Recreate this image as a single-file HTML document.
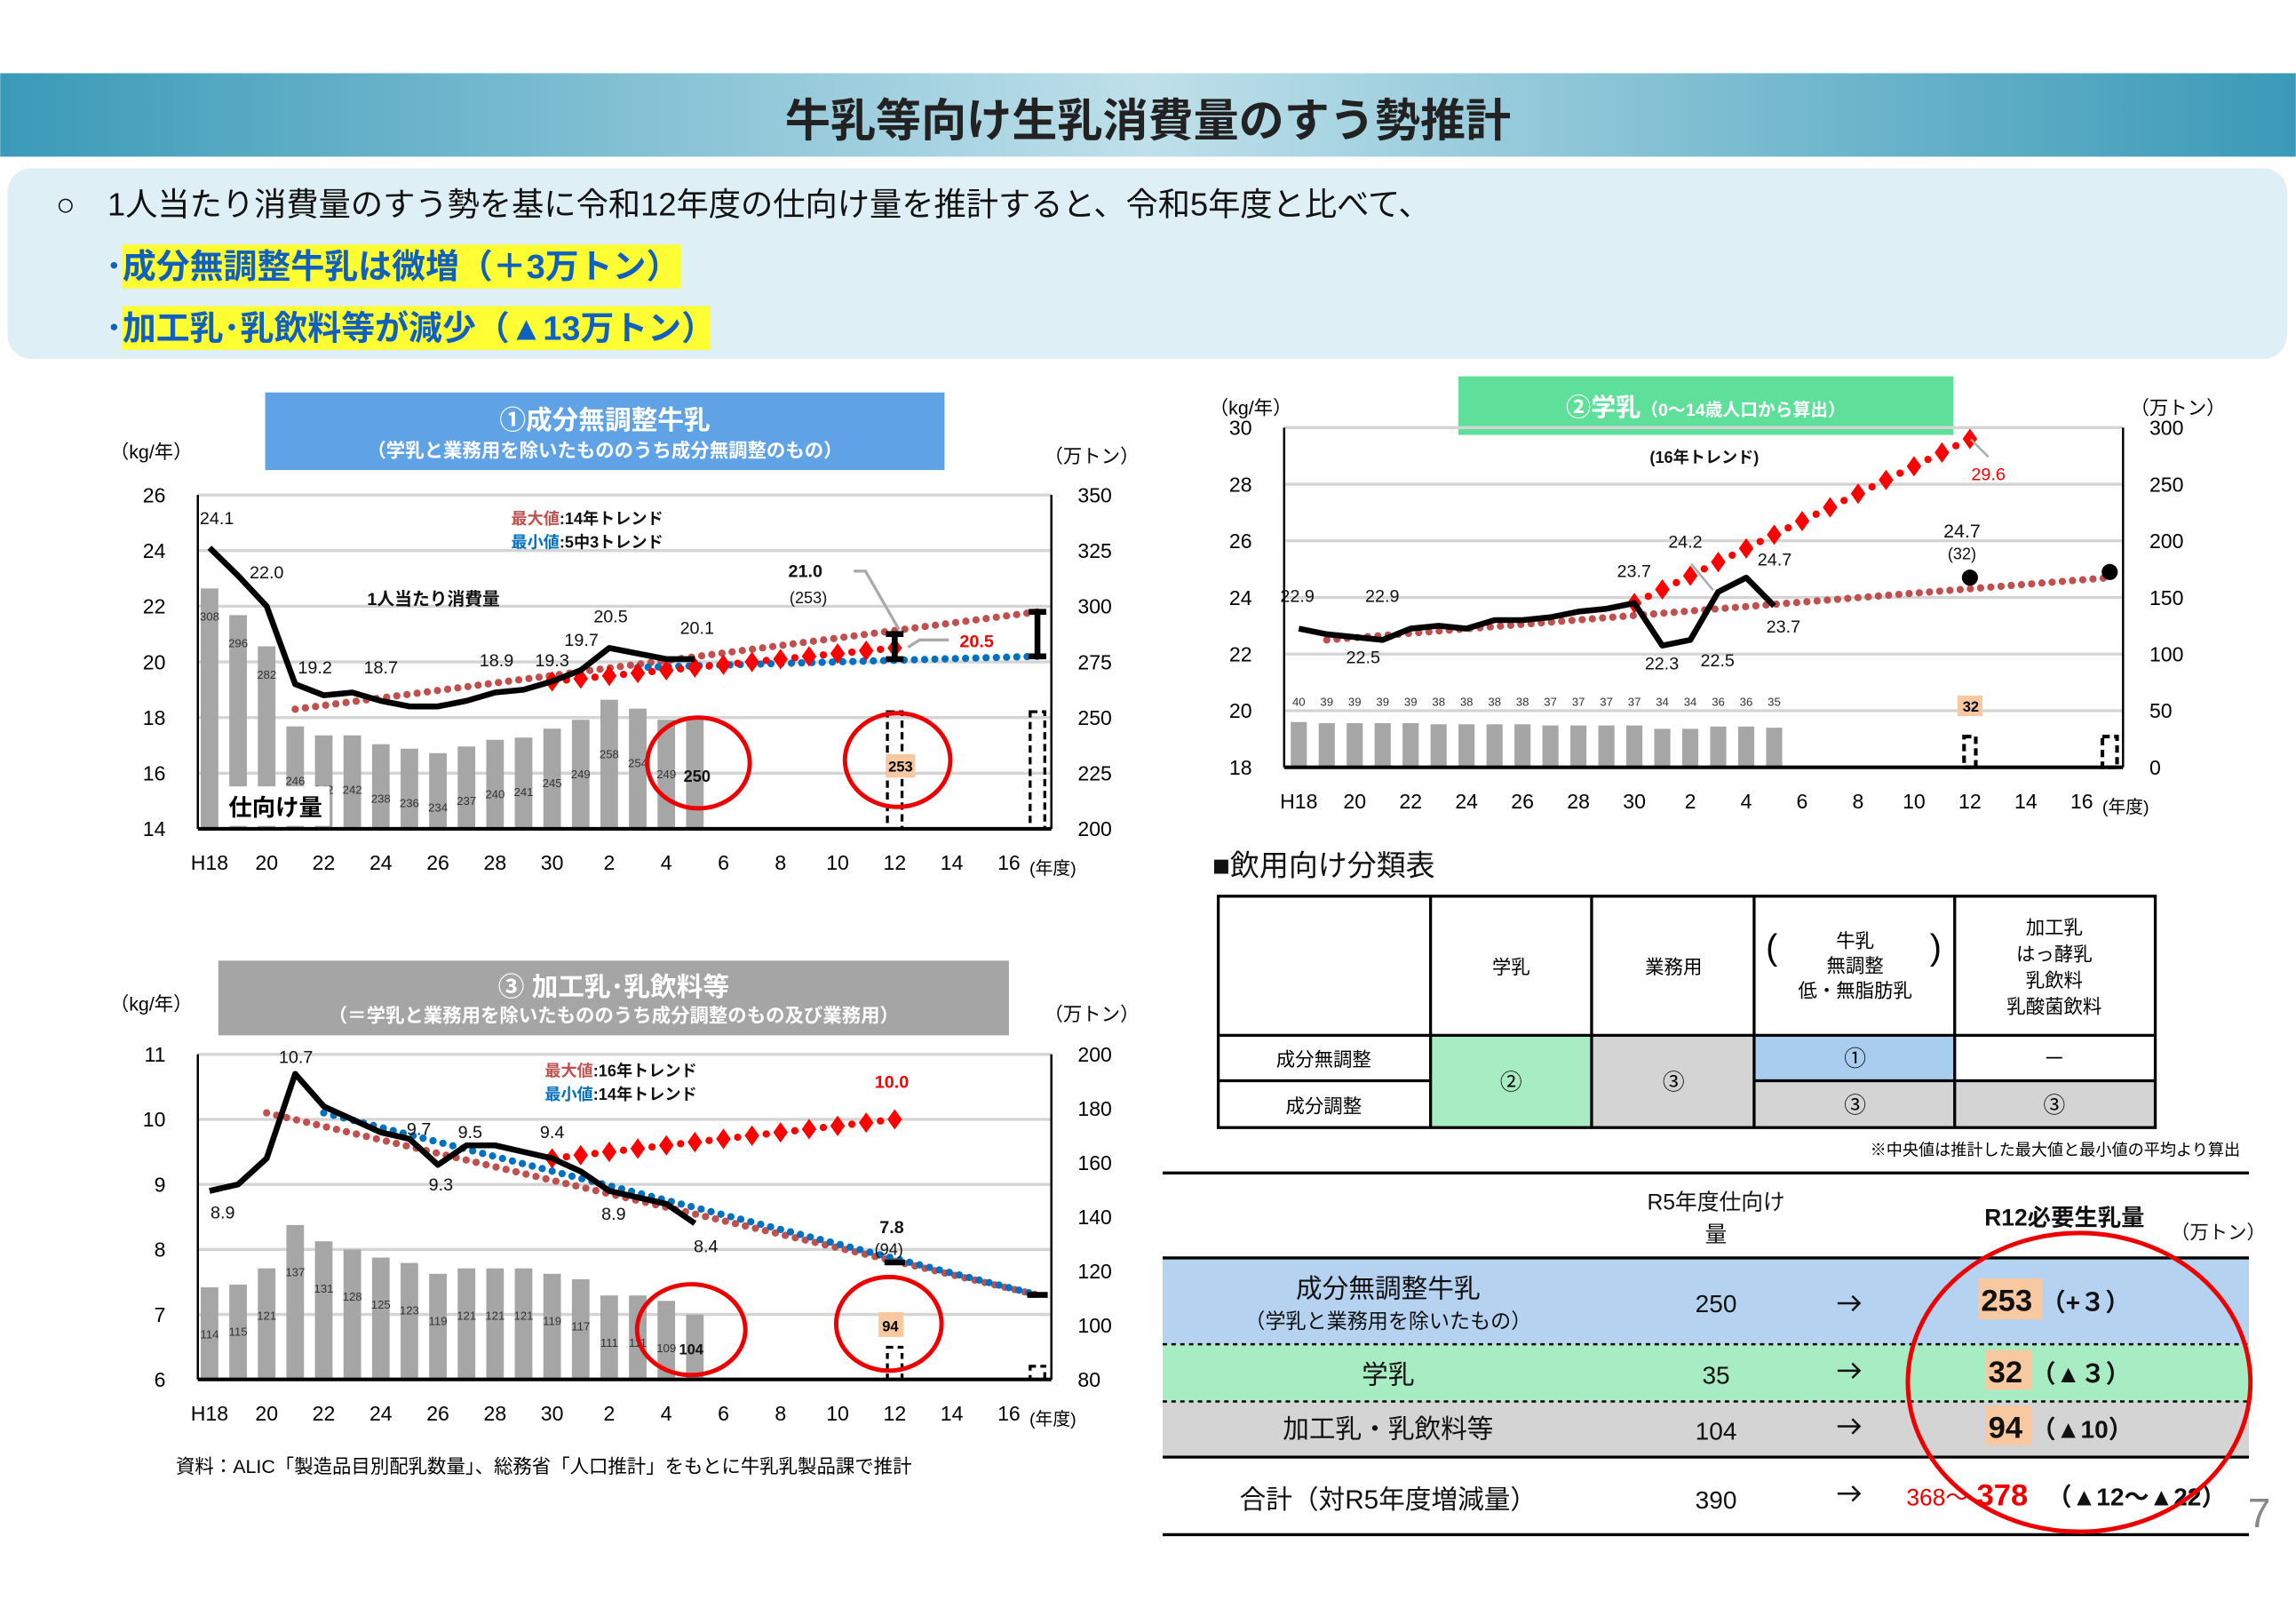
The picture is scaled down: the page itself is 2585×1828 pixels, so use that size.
<!DOCTYPE html>
<html><head><meta charset="utf-8"><style>
html,body{margin:0;padding:0;background:#fff}
svg{display:block}
text{font-family:"Liberation Sans","Noto Sans CJK JP",sans-serif}
</style></head><body>
<svg id="s" width="2585" height="1828" viewBox="0 0 1568 1109" xmlns="http://www.w3.org/2000/svg">
<defs>
<linearGradient id="bn" x1="0" x2="1"><stop offset="0" stop-color="#3a9ab8"/><stop offset="0.5" stop-color="#bfe0ea"/><stop offset="1" stop-color="#3a9ab8"/></linearGradient>
</defs>
<rect x="0" y="50" width="1568" height="57" fill="url(#bn)"/>
<text x="784" y="93" font-size="31" font-weight="bold" text-anchor="middle" fill="#222">牛乳等向け生乳消費量のすう勢推計</text>
<rect x="5" y="115" width="1557" height="130" rx="16" fill="#deeff5"/>
<text x="38" y="147" font-size="22" fill="#111">○　1人当たり消費量のすう勢を基に令和12年度の仕向け量を推計すると、令和5年度と比べて、</text>
<rect x="83" y="167" width="382" height="30" fill="#ffff33"/>
<text x="72" y="190" font-size="23" font-weight="bold" fill="#1060c0">･成分無調整牛乳は微増（＋3万トン）</text>
<rect x="83" y="209" width="402" height="30" fill="#ffff33"/>
<text x="72" y="232" font-size="23" font-weight="bold" fill="#1060c0">･加工乳･乳飲料等が減少（▲13万トン）</text>

<rect x="181" y="268" width="464" height="53" fill="#5fa3e6"/>
<text x="413" y="293" font-size="18" font-weight="bold" fill="#fff" text-anchor="middle">①成分無調整牛乳</text>
<text x="413" y="312" font-size="13" font-weight="bold" fill="#fff" text-anchor="middle">（学乳と業務用を除いたもののうち成分無調整のもの）</text>
<text x="75" y="313" font-size="13">（kg/年）</text><text x="713" y="316" font-size="13">（万トン）</text>

<rect x="149" y="656" width="540" height="51" fill="#a5a5a5"/>
<text x="419" y="680" font-size="18" font-weight="bold" fill="#fff" text-anchor="middle">③ 加工乳･乳飲料等</text>
<text x="419" y="698" font-size="13" font-weight="bold" fill="#fff" text-anchor="middle">（＝学乳と業務用を除いたもののうち成分調整のもの及び業務用）</text>
<text x="75" y="690" font-size="13">（kg/年）</text><text x="713" y="697" font-size="13">（万トン）</text>
<text x="120" y="1006" font-size="13">資料：ALIC「製造品目別配乳数量」、総務省「人口推計」をもとに牛乳乳製品課で推計</text>

<rect x="996" y="257" width="338" height="40" fill="#5fe09a"/>
<text x="1165" y="284" font-size="17" font-weight="bold" fill="#fff" text-anchor="middle">②学乳<tspan font-size="12">（0～14歳人口から算出）</tspan></text>
<text x="826" y="283" font-size="13">（kg/年）</text><text x="1455" y="283" font-size="13">（万トン）</text>

<g id="g"></g>

<text x="828" y="598" font-size="20" fill="#111">■飲用向け分類表</text>
<rect x="977" y="707" width="110" height="63" fill="#a8ecc4"/>
<rect x="1087" y="707" width="111" height="63" fill="#d4d4d4"/>
<rect x="1198" y="707" width="137" height="31" fill="#a9cdef"/>
<rect x="1198" y="738" width="274" height="32" fill="#d4d4d4"/>
<g stroke="#000" stroke-width="2" fill="none">
<rect x="832" y="612" width="640" height="158"/>
<line x1="977" y1="612" x2="977" y2="770"/><line x1="1087" y1="612" x2="1087" y2="770"/>
<line x1="1198" y1="612" x2="1198" y2="770"/><line x1="1335" y1="612" x2="1335" y2="770"/>
<line x1="832" y1="707" x2="1472" y2="707"/><line x1="832" y1="738" x2="977" y2="738"/><line x1="1198" y1="738" x2="1472" y2="738"/>
</g>
<g font-size="13" text-anchor="middle">
<text x="1032" y="665">学乳</text><text x="1143" y="665">業務用</text>
<text x="1267" y="647">牛乳</text><text x="1267" y="664">無調整</text><text x="1267" y="681">低・無脂肪乳</text>
<text x="1210" y="655" font-size="24">(</text><text x="1322" y="655" font-size="24">)</text>
<text x="1403" y="638">加工乳</text><text x="1403" y="656">はっ酵乳</text><text x="1403" y="674">乳飲料</text><text x="1403" y="692">乳酸菌飲料</text>
<text x="904" y="728">成分無調整</text><text x="904" y="760">成分調整</text>
<text x="1032" y="744" font-size="15">②</text><text x="1143" y="744" font-size="15">③</text>
<text x="1267" y="728" font-size="15">①</text><text x="1403" y="728" font-size="15">－</text>
<text x="1267" y="760" font-size="15">③</text><text x="1403" y="760" font-size="15">③</text>
</g>
<text x="1530" y="789" font-size="11" text-anchor="end">※中央値は推計した最大値と最小値の平均より算出</text>

<rect x="794" y="860" width="742" height="58" fill="#b5d3f0"/>
<rect x="794" y="918" width="742" height="39" fill="#a8ecc4"/>
<rect x="794" y="957" width="742" height="38" fill="#d4d4d4"/>
<line x1="794" y1="801" x2="1536" y2="801" stroke="#000" stroke-width="2"/>
<line x1="794" y1="859" x2="1536" y2="859" stroke="#000" stroke-width="2"/>
<line x1="794" y1="918" x2="1536" y2="918" stroke="#000" stroke-width="1.5" stroke-dasharray="3,3"/>
<line x1="794" y1="957" x2="1536" y2="957" stroke="#000" stroke-width="1.5" stroke-dasharray="3,3"/>
<line x1="794" y1="995" x2="1536" y2="995" stroke="#000" stroke-width="2"/>
<line x1="794" y1="1048" x2="1536" y2="1048" stroke="#000" stroke-width="2"/>
<g text-anchor="middle" fill="#111">
<text x="1172" y="826" font-size="15">R5年度仕向け</text><text x="1172" y="848" font-size="15">量</text>
<text x="1410" y="837" font-size="16" font-weight="bold">R12必要生乳量</text>
<text x="1515" y="846" font-size="13">（万トン）</text>
<text x="948" y="886" font-size="18">成分無調整牛乳</text><text x="948" y="907" font-size="14">（学乳と業務用を除いたもの）</text>
<text x="948" y="945" font-size="18">学乳</text><text x="948" y="982" font-size="18">加工乳・乳飲料等</text>
<text x="948" y="1030" font-size="18">合計（対R5年度増減量）</text>
<text x="1172" y="896" font-size="17">250</text><text x="1172" y="945" font-size="17">35</text>
<text x="1172" y="983" font-size="17">104</text><text x="1172" y="1030" font-size="17">390</text>
</g>
<g stroke="#111" stroke-width="1.5" fill="none">
<path d="M1255 890h15m-5-5l5 5l-5 5"/><path d="M1255 936h15m-5-5l5 5l-5 5"/>
<path d="M1255 974h15m-5-5l5 5l-5 5"/><path d="M1255 1020h15m-5-5l5 5l-5 5"/>
</g>
<rect x="1351" y="873" width="44" height="28" fill="#f8c8a0"/>
<rect x="1356" y="922" width="32" height="27" fill="#f8c8a0"/>
<rect x="1356" y="960" width="32" height="27" fill="#f8c8a0"/>
<g font-weight="bold" fill="#111">
<text x="1353" y="895" font-size="21">253 <tspan font-size="17">（+３）</tspan></text>
<text x="1358" y="944" font-size="21">32 <tspan font-size="17">（▲３）</tspan></text>
<text x="1358" y="982" font-size="21">94 <tspan font-size="17">（▲10）</tspan></text>
<text x="1302" y="1028" font-size="16" font-weight="normal" fill="#e00">368～</text>
<text x="1350" y="1028" font-size="21" fill="#e00">378</text>
<text x="1398" y="1028" font-size="17">（▲12～▲22）</text>
</g>
<ellipse cx="1420" cy="944" rx="117" ry="102" fill="none" stroke="#e00" stroke-width="3"/>
<text x="1543" y="1043" font-size="28" fill="#888" text-anchor="middle">7</text>
</svg>
<script>
const NS="http://www.w3.org/2000/svg",G=document.getElementById('g');
function el(t,a,txt){const e=document.createElementNS(NS,t);for(const k in a)e.setAttribute(k,a[k]);if(txt!==undefined)e.textContent=txt;G.appendChild(e);return e;}
function legend(x,y,c,rest){const t=el('text',{x:x,y:y,'font-size':11,'font-weight':'bold',fill:'#111'});
 const a=document.createElementNS(NS,'tspan');a.setAttribute('fill',c);a.textContent='最'+(c===B?'小':'大')+'値';t.appendChild(a);
 const b=document.createElementNS(NS,'tspan');b.textContent=rest;t.appendChild(b);}
const F="#c0504d",B="#0070c0";
function chart(c){
 const X=i=>c.x0+c.dx*i, Y=v=>c.yb-(v-c.lmin)*(c.yb-c.yt)/(c.lmax-c.lmin), YR=v=>c.yb-(v-c.rmin)*(c.yb-c.yt)/(c.rmax-c.rmin);
 for(let v=c.lmin;v<=c.lmax+1e-9;v+=c.lstep){el('line',{x1:c.px0,x2:c.px1,y1:Y(v),y2:Y(v),stroke:'#d4d4d4','stroke-width':2});
  el('text',{x:c.px0-22,y:Y(v)+5,'font-size':14,'text-anchor':'end'},String(v));}
 for(let v=c.rmin;v<=c.rmax+1e-9;v+=c.rstep){el('text',{x:c.px1+18,y:YR(v)+5,'font-size':14},String(v));}
 (c.pre||[]).forEach(f=>f(X,Y,YR));
 c.bars.forEach((b,i)=>{el('rect',{x:X(i)-c.bw/2,y:YR(b),width:c.bw,height:c.yb-YR(b),fill:'#a6a6a6'});
   if(c.barlbl&&i<c.bars.length-(c.skipLast?1:0)) el('text',{x:X(i),y:c.barlbl(i,b),'font-size':8,'text-anchor':'middle',fill:'#333'},String(b));});
 el('line',{x1:c.px0,x2:c.px1,y1:c.yb,y2:c.yb,stroke:'#000','stroke-width':2.5});
 el('line',{x1:c.px0,x2:c.px0,y1:c.yt,y2:c.yb,stroke:'#000','stroke-width':1.5});
 el('line',{x1:c.px1,x2:c.px1,y1:c.yt,y2:c.yb,stroke:'#000','stroke-width':1.5});
 c.xl.forEach((l,j)=>el('text',{x:X(j*2),y:c.yb+28,'font-size':14,'text-anchor':'middle'},l));
 el('text',{x:X(28)+14,y:c.yb+31,'font-size':12},'(年度)');
 (c.dots||[]).forEach(d=>{el('line',{x1:X(d[0]),y1:Y(d[1]),x2:X(d[2]),y2:Y(d[3]),stroke:d[4],'stroke-width':5,'stroke-linecap':'round','stroke-dasharray':'0,'+d[5]});});
 if(c.dia){const [i0,v0,i1,v1]=c.dia;for(let i=i0;i<=i1;i++){const x=X(i),y=Y(v0+(v1-v0)*(i-i0)/(i1-i0));
   el('path',{d:`M${x} ${y-7}L${x+5} ${y}L${x} ${y+7}L${x-5} ${y}Z`,fill:'#f00'});
   if(i<i1){el('circle',{cx:x+c.dx/2,cy:y+(Y(v1)-Y(v0))/(i1-i0)/2,r:2.5,fill:'#f00'});}}}
 el('polyline',{points:c.s.map((v,i)=>X(i)+','+Y(v)).join(' '),fill:'none',stroke:'#000','stroke-width':4,'stroke-linejoin':'round'});
 (c.lab||[]).forEach(l=>el('text',{x:l[0],y:l[1],'font-size':l[3]||13,'text-anchor':'middle',fill:l[4]||'#111','font-weight':l[5]||'normal'},l[2]));
 (c.extra||[]).forEach(f=>f(X,Y,YR));
}
chart({x0:143,dx:19.5,px0:135,px1:718,yt:338,yb:566,lmin:14,lmax:26,lstep:2,rmin:200,rmax:350,rstep:25,bw:12,skipLast:true,
 bars:[308,296,282,246,242,242,238,236,234,237,240,241,245,249,258,254,249,250],
 barlbl:(i,b)=>i<3?566-(b-200)*1.52+22:566-(b-200)*1.52+40,
 s:[24.1,23.1,22.0,19.2,18.8,18.9,18.6,18.4,18.4,18.6,18.9,19.0,19.3,19.7,20.5,20.3,20.1,20.1],
 xl:['H18','20','22','24','26','28','30','2','4','6','8','10','12','14','16'],
 dots:[[3,18.3,29,21.8,F,7],[15,19.8,29,20.2,B,7]],dia:[12,19.3,24,20.5],
 lab:[[148,358,'24.1',12],[182,395,'22.0',12],[215,460,'19.2',12],[260,460,'18.7',12],[339,455,'18.9',12],[377,455,'19.3',12],[397,441,'19.7',12],[417,425,'20.5',12],[476,433,'20.1',12],
  [296,413,'1人当たり消費量',12,'#111','bold'],[550,394,'21.0',12,'#111','bold'],[552,412,'(253)',11],[667,442,'20.5',12,'#f00','bold'],
  [476,534,'250',11,'#111','bold']],
 extra:[(X,Y,YR)=>{
  legend(349,358,F,':14年トレンド');legend(349,374,B,':5中3トレンド');
  el('rect',{x:150,y:537,width:75,height:27,fill:'#fff'});
  el('text',{x:188,y:557,'font-size':16,'text-anchor':'middle','font-weight':'bold'},'仕向け量');
  [[24,20.1,21.0],[29,20.2,21.8]].forEach(e=>{const x=X(e[0]);el('path',{d:`M${x} ${Y(e[1])}V${Y(e[2])}M${x-6} ${Y(e[1])}h12M${x-6} ${Y(e[2])}h12`,stroke:'#000','stroke-width':4,fill:'none'});});
  [24,29].forEach(i=>el('rect',{x:X(i)-5,y:486,width:10,height:80,fill:'none',stroke:'#000','stroke-width':2,'stroke-dasharray':'5,3'}));
  el('rect',{x:605,y:515,width:20,height:16,fill:'#f8c8a0'});el('text',{x:615,y:527,'font-size':10,'text-anchor':'middle','font-weight':'bold'},'253');
  el('path',{d:'M583 390h8L614 430M620 442l8-5h20',stroke:'#aaa','stroke-width':2,fill:'none'});
  el('ellipse',{cx:477,cy:521,rx:35,ry:31,fill:'none',stroke:'#e00','stroke-width':3});
  el('ellipse',{cx:613,cy:519,rx:36,ry:32,fill:'none',stroke:'#e00','stroke-width':3});
 }]});
chart({x0:143,dx:19.5,px0:135,px1:718,yt:720,yb:942,lmin:6,lmax:11,lstep:1,rmin:80,rmax:200,rstep:20,bw:12,skipLast:true,
 bars:[114,115,121,137,131,128,125,123,119,121,121,121,119,117,111,111,109,104],
 barlbl:(i,b)=>942-(b-80)*1.85+35,
 s:[8.9,9.0,9.4,10.7,10.2,10.0,9.8,9.7,9.3,9.6,9.6,9.5,9.4,9.2,8.9,8.8,8.7,8.4],
 xl:['H18','20','22','24','26','28','30','2','4','6','8','10','12','14','16'],
 dots:[[2,10.1,29,7.3,F,7],[4,10.1,29,7.3,B,7]],dia:[12,9.4,24,10.0],
 lab:[[152,832,'8.9',12],[202,726,'10.7',12],[286,775,'9.7',12],[321,777,'9.5',12],[301,813,'9.3',12],[377,777,'9.4',12],[419,833,'8.9',12],[482,855,'8.4',12],
  [609,842,'7.8',12,'#111','bold'],[607,857,'(94)',11],[609,743,'10.0',12,'#f00','bold'],[472,925,'104',10,'#111','bold']],
 extra:[(X,Y,YR)=>{
  legend(372,735,F,':16年トレンド');legend(372,751,B,':14年トレンド');
  el('line',{x1:X(24)-7,x2:X(24)+7,y1:Y(7.8),y2:Y(7.8),stroke:'#000','stroke-width':4});
  el('line',{x1:X(29)-7,x2:X(29)+7,y1:Y(7.3),y2:Y(7.3),stroke:'#000','stroke-width':4});
  el('rect',{x:X(24)-5,y:920,width:10,height:22,fill:'none',stroke:'#000','stroke-width':2,'stroke-dasharray':'4,3'});
  el('rect',{x:X(29)-5,y:933,width:10,height:9,fill:'none',stroke:'#000','stroke-width':2,'stroke-dasharray':'4,3'});
  el('rect',{x:600,y:896,width:17,height:17,fill:'#f8c8a0'});el('text',{x:608,y:909,'font-size':10,'text-anchor':'middle','font-weight':'bold'},'94');
  el('ellipse',{cx:472,cy:908,rx:37,ry:31,fill:'none',stroke:'#e00','stroke-width':3});
  el('ellipse',{cx:607,cy:904,rx:36,ry:32,fill:'none',stroke:'#e00','stroke-width':3});
 }]});
chart({x0:887,dx:19.1,px0:877,px1:1450,yt:292,yb:524,lmin:18,lmax:30,lstep:2,rmin:0,rmax:300,rstep:50,bw:11,
 bars:[40,39,39,39,39,38,38,38,38,37,37,37,37,34,34,36,36,35],
 barlbl:(i,b)=>482,
 s:[22.9,22.7,22.6,22.5,22.9,23.0,22.9,23.2,23.2,23.3,23.5,23.6,23.7,23.8,22.3,22.5,24.2,24.7,23.7].filter((v,i)=>i!==12),
 xl:['H18','20','22','24','26','28','30','2','4','6','8','10','12','14','16'],
 dots:[[1,22.5,29,24.7,F,7]],dia:[12,23.8,24,29.6],
 lab:[[886,411,'22.9',12],[944,411,'22.9',12],[931,453,'22.5',12],[1135,457,'22.3',12],[1173,455,'22.5',12],[1151,374,'24.2',12],[1116,394,'23.7',12],[1212,386,'24.7',12],[1218,432,'23.7',12],
  [1340,367,'24.7',13],[1340,382,'(32)',11],[1358,328,'29.6',12,'#f00'],[1164,316,'(16年トレンド)',11,'#111','bold']],
 extra:[(X,Y,YR)=>{
  el('circle',{cx:X(24),cy:Y(24.7),r:5.5,fill:'#000'});el('circle',{cx:X(29),cy:Y(24.9),r:5.5,fill:'#000'});
  el('rect',{x:X(24)-4,y:503,width:8,height:21,fill:'none',stroke:'#000','stroke-width':2.5,'stroke-dasharray':'5,3'});
  el('rect',{x:X(29)-5,y:503,width:10,height:21,fill:'none',stroke:'#000','stroke-width':2.5,'stroke-dasharray':'5,3'});
  el('rect',{x:1337,y:475,width:17,height:14,fill:'#f8c8a0'});el('text',{x:1346,y:486,'font-size':10,'text-anchor':'middle','font-weight':'bold'},'32');
  el('path',{d:'M1346 300L1358 312',stroke:'#aaa','stroke-width':1.5});
  el('path',{d:'M1155 385L1170 403',stroke:'#aaa','stroke-width':1.5});
 }]});
</script>
</body></html>
